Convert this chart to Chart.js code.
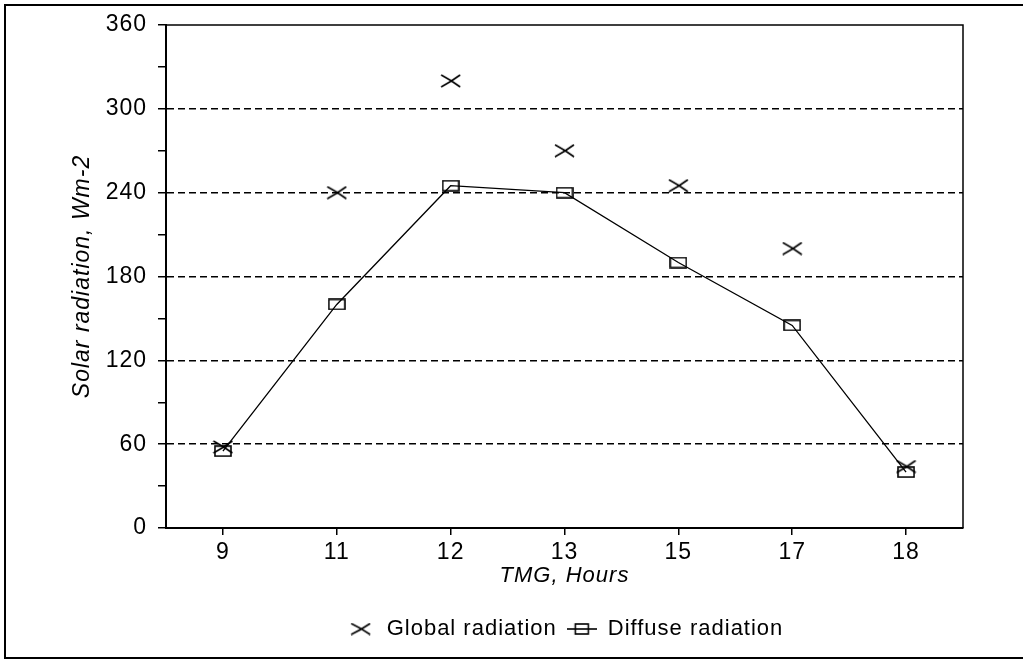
<!DOCTYPE html>
<html>
<head>
<meta charset="utf-8">
<script src="https://cdn.jsdelivr.net/npm/chart.js@4"></script>
<style>
  body { margin: 0; background: #fff; }
  #wrap { width: 1023px; height: 661px; position: relative; }
</style>
</head>
<body>
<div id="wrap"><canvas id="radChart"></canvas></div>
<script>
// data
const hours = ["9", "11", "12", "13", "15", "17", "18"];
const globalRadiation = [58, 240, 320, 270, 245, 200, 44];
const diffuseRadiation = [55, 160, 245, 240, 190, 145, 40];
const yMin = 0;
const yMax = 360;
const yLabelStep = 60;
const yMinorStep = 30;

const FONT = "Arial, 'Liberation Sans', sans-serif";

// marker pictures (X and open rectangle)
function makeCross(w, h) {
    const c = document.createElement("canvas");
    c.width = w; c.height = h;
    const g = c.getContext("2d");
    g.strokeStyle = "#000";
    g.lineWidth = 1.6;
    g.beginPath();
    g.moveTo(1, 1); g.quadraticCurveTo(w / 2, h / 2 - 1, w - 1, h - 1);
    g.moveTo(1, h - 1); g.quadraticCurveTo(w / 2, h / 2 + 1, w - 1, 1);
    g.stroke();
    return c;
}

function makeBox(w, h, lineThrough) {
    const c = document.createElement("canvas");
    c.width = w; c.height = h;
    const g = c.getContext("2d");
    g.strokeStyle = "#000";
    g.lineWidth = 1.6;
    if (lineThrough) {
        const bw = 13, bh = 10;
        g.beginPath();
        g.moveTo(0, h / 2); g.lineTo(w, h / 2);
        g.stroke();
        g.strokeRect((w - bw) / 2, (h - bh) / 2, bw, bh);
    } else {
        g.strokeRect(1, 1, w - 2, h - 2);
    }
    return c;
}

const crossMark = makeCross(21, 14);
const boxMark = makeBox(18, 12, false);
const crossLegend = makeCross(21, 13);
const boxLegend = makeBox(30, 12, true);

// the printed figure uses a wide face, so open the letters up a little
const spacing = {
    id: "spacing",
    beforeUpdate(chart) { chart.ctx.letterSpacing = "1px"; },
    beforeDraw(chart) { chart.ctx.letterSpacing = "1px"; }
};

const frame = {
    id: "frame",
    afterDraw(chart) {
        const { ctx, chartArea: a } = chart;
        ctx.save();
        ctx.strokeStyle = "#000";
        ctx.lineWidth = 1.5;
        ctx.beginPath();
        ctx.moveTo(a.left, a.top);
        ctx.lineTo(a.right, a.top);
        ctx.lineTo(a.right, a.bottom);
        ctx.stroke();
        // outer frame round the figure
        ctx.lineWidth = 2;
        ctx.beginPath();
        ctx.moveTo(chart.width, 5);
        ctx.lineTo(5, 5);
        ctx.lineTo(5, 658);
        ctx.lineTo(chart.width, 658);
        ctx.stroke();
        ctx.restore();
    }
};

const ctx = document.getElementById("radChart").getContext("2d");
new Chart(ctx, {
    type: "line",
    data: {
        labels: hours,
        datasets: [
            {
                label: "Global radiation",
                data: globalRadiation,
                showLine: false,
                borderColor: "#000",
                backgroundColor: "#000",
                pointStyle: crossMark,
                pointRadius: 6
            },
            {
                label: "Diffuse radiation",
                data: diffuseRadiation,
                borderColor: "#000",
                backgroundColor: "#000",
                borderWidth: 1.3,
                tension: 0,
                pointStyle: boxMark,
                pointRadius: 6
            }
        ]
    },
    options: {
        responsive: true,
        maintainAspectRatio: false,
        animation: false,
        layout: { padding: { left: 60, right: 60, top: 25, bottom: 11 } },
        plugins: {
            tooltip: { enabled: false },
            legend: {
                position: "bottom",
                fullSize: false,
                labels: {
                    color: "#000",
                    font: { family: FONT, size: 22 },
                    usePointStyle: true,
                    pointStyleWidth: 30,
                    padding: 10,
                    generateLabels(chart) {
                        const items = Chart.defaults.plugins.legend.labels.generateLabels(chart);
                        items.forEach((it) => {
                            it.pointStyle = it.datasetIndex === 0 ? crossLegend : boxLegend;
                        });
                        return items;
                    }
                }
            }
        },
        scales: {
            x: {
                offset: true,
                grid: { display: true, drawOnChartArea: false, color: "#000", tickLength: 7, lineWidth: 1.5 },
                border: { color: "#000", width: 2 },
                ticks: { color: "#000", padding: 4, font: { family: FONT, size: 23 } },
                title: {
                    display: true,
                    text: "TMG, Hours",
                    color: "#000",
                    padding: { top: 0, bottom: 19 },
                    font: { family: FONT, size: 22, style: "italic" }
                },
                afterFit(scale) { scale.height = 80; }
            },
            y: {
                min: yMin,
                max: yMax,
                grid: {
                    color: (c) => {
                        const v = c.tick ? c.tick.value : null;
                        return v !== null && v % yLabelStep === 0 && v > yMin && v < yMax ? "#000" : "rgba(0,0,0,0)";
                    },
                    tickColor: "#000",
                    lineWidth: 1.5,
                    tickLength: 8
                },
                border: { color: "#000", width: 2, dash: [7, 4] },
                ticks: {
                    stepSize: yMinorStep,
                    color: "#000",
                    padding: 11,
                    font: { family: FONT, size: 23 },
                    callback: (v) => (v % yLabelStep === 0 ? v : "")
                },
                title: {
                    display: true,
                    text: "Solar radiation, Wm-2",
                    color: "#000",
                    padding: { top: 9, bottom: 0 },
                    font: { family: FONT, size: 23, style: "italic" }
                },
                afterFit(scale) { scale.width = 106; }
            }
        }
    },
    plugins: [spacing, frame]
});
</script>
</body>
</html>
